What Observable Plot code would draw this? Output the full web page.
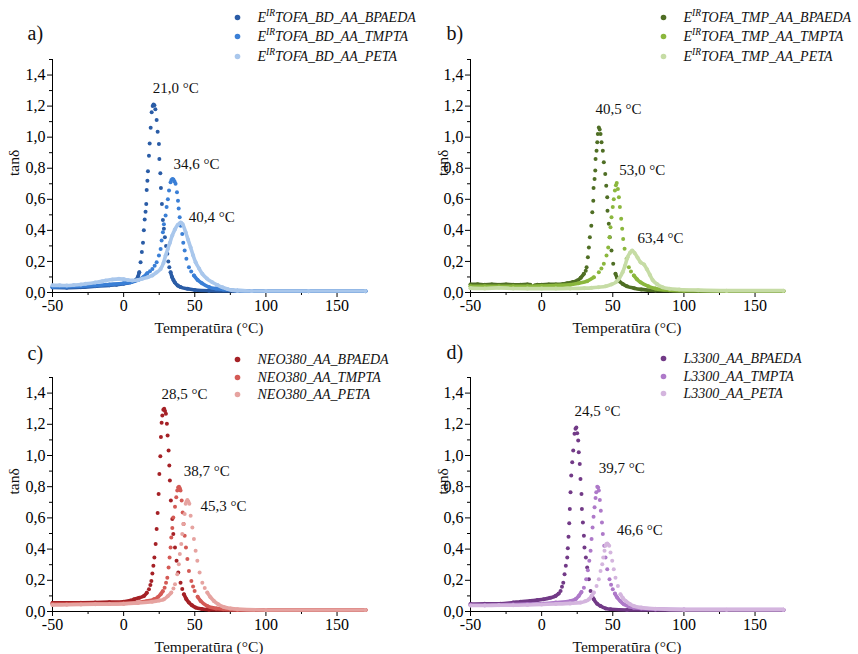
<!DOCTYPE html>
<html><head><meta charset="utf-8">
<script src="https://cdn.jsdelivr.net/npm/d3@7"></script>
<script src="https://cdn.jsdelivr.net/npm/@observablehq/plot@0.6"></script>
<style>
body{margin:0;background:#fff;}
#chart{position:relative;width:858px;height:654px;background:#fff;}
#chart > div{position:absolute;}
</style></head><body><div id="chart"></div>
<script>
// ---------- axis ticks ----------
const xTicks = [-50, 0, 50, 100, 150];
const xMinor = [-25, 25, 75, 125];
const yTicks = [0, 0.2, 0.4, 0.6, 0.8, 1.0, 1.2, 1.4];
const yMinor = [0.1, 0.3, 0.5, 0.7, 0.9, 1.1, 1.3, 1.5];
const xLabel = "Temperatūra (°C)";
const yLabel = "tanδ";
const panelLabels = ["a)", "b)", "c)", "d)"];

// ---------- series names ----------
const namesA = ["E^{IR}TOFA_BD_AA_BPAEDA", "E^{IR}TOFA_BD_AA_TMPTA", "E^{IR}TOFA_BD_AA_PETA"];
const namesB = ["E^{IR}TOFA_TMP_AA_BPAEDA", "E^{IR}TOFA_TMP_AA_TMPTA", "E^{IR}TOFA_TMP_AA_PETA"];
const namesC = ["NEO380_AA_BPAEDA", "NEO380_AA_TMPTA", "NEO380_AA_PETA"];
const namesD = ["L3300_AA_BPAEDA", "L3300_AA_TMPTA", "L3300_AA_PETA"];

// ---------- peak labels ----------
const peaksA = [["21,0 °C", 20.4, 1.318], ["34,6 °C", 35.1, 0.823], ["40,4 °C", 45.7, 0.482]];
const peaksB = [["40,5 °C", 37.9, 1.183], ["53,0 °C", 54.6, 0.785], ["63,4 °C", 67.4, 0.347]];
const peaksC = [["28,5 °C", 26.7, 1.392], ["38,7 °C", 42.2, 0.897], ["45,3 °C", 54.1, 0.678]];
const peaksD = [["24,5 °C", 23.1, 1.283], ["39,7 °C", 40.1, 0.916], ["46,6 °C", 52.8, 0.524]];

// ---------- data: [temperature °C, tanδ] ----------
const a_BPAEDA = [[-50,0.032],[-40,0.031],[-30,0.034],[-20,0.04],[-10,0.046],[-5,0.05],[0,0.056],[5,0.066],[8,0.078],[10,0.1],[11,0.13],[11.9,0.195],[12.8,0.26],[13.6,0.32],[14.2,0.4],[14.8,0.47],[15.4,0.52],[15.9,0.57],[16.2,0.66],[16.7,0.72],[17.1,0.78],[17.8,0.88],[18.3,0.96],[19,1.06],[19.7,1.16],[20.4,1.2],[21,1.21],[21.6,1.205],[22.3,1.18],[23.2,1.11],[23.9,1.035],[24.8,0.956],[25.1,0.86],[25.8,0.767],[26.2,0.673],[26.9,0.57],[27.6,0.467],[28.3,0.41],[29,0.355],[29.8,0.3],[30.7,0.25],[31.4,0.2],[32.1,0.163],[33,0.13],[34,0.1],[35,0.08],[36,0.065],[38,0.045],[40,0.035],[45,0.024],[50,0.016],[60,0.011],[80,0.009],[100,0.008],[130,0.008],[170,0.008]];
const a_TMPTA = [[-50,0.036],[-40,0.037],[-30,0.04],[-20,0.045],[-10,0.052],[0,0.06],[5,0.066],[10,0.08],[14,0.1],[16.6,0.124],[18.5,0.137],[20.2,0.152],[21.8,0.172],[23.2,0.195],[24.8,0.238],[26,0.28],[26.7,0.334],[27.6,0.388],[28.3,0.44],[29.5,0.495],[30.2,0.55],[31.1,0.6],[31.9,0.656],[33,0.71],[33.6,0.725],[34.3,0.73],[35,0.728],[35.8,0.715],[36.5,0.7],[37.5,0.645],[38.2,0.59],[38.7,0.54],[39.4,0.485],[40.1,0.43],[41.2,0.377],[41.9,0.32],[42.9,0.27],[44.1,0.217],[45.9,0.163],[47.5,0.135],[49.4,0.11],[52,0.08],[55,0.06],[60,0.035],[65,0.025],[70,0.02],[80,0.012],[100,0.01],[130,0.01],[170,0.01]];
const a_PETA = [[-50,0.046],[-45,0.046],[-40,0.045],[-35,0.048],[-30,0.052],[-26.7,0.056],[-20,0.065],[-15,0.073],[-12.6,0.077],[-8,0.084],[-3.3,0.088],[0,0.086],[3,0.08],[6.1,0.077],[10,0.08],[13.1,0.088],[17,0.098],[20.2,0.11],[23,0.128],[26,0.152],[28,0.19],[29.5,0.238],[31,0.28],[32.5,0.32],[34.2,0.367],[36,0.405],[38,0.435],[40.1,0.45],[41.5,0.44],[43.6,0.388],[45.3,0.34],[47.1,0.29],[48.8,0.24],[50.6,0.195],[53,0.155],[55.3,0.12],[58.5,0.09],[62.3,0.066],[66,0.048],[69.4,0.034],[73,0.022],[76.4,0.014],[80,0.012],[90,0.01],[100,0.01],[130,0.01],[170,0.01]];

const b_BPAEDA = [[-50,0.052],[-45,0.053],[-40,0.05],[-35,0.052],[-30,0.05],[-25,0.052],[-20,0.05],[-15,0.05],[-10,0.052],[-8,0.05],[-6.4,0.03],[-5,0.045],[-3,0.05],[0,0.05],[5,0.052],[10,0.052],[15,0.055],[18,0.06],[22,0.068],[25,0.077],[27.5,0.095],[29.7,0.12],[31,0.14],[31.6,0.163],[32.5,0.227],[33.2,0.29],[33.9,0.356],[34.9,0.43],[35.6,0.516],[36.3,0.59],[36.5,0.673],[37.2,0.73],[37.7,0.785],[37.9,0.86],[38.6,0.913],[39.1,0.967],[39.5,1.02],[40.2,1.063],[40.8,1.05],[41.4,1.02],[42.1,0.967],[43,0.913],[43.7,0.838],[44.7,0.763],[45.4,0.688],[46.1,0.613],[46.3,0.527],[47.2,0.442],[47.9,0.356],[49.1,0.27],[50.3,0.185],[51.9,0.12],[53,0.095],[54.3,0.077],[57,0.055],[60,0.04],[65,0.028],[70,0.02],[80,0.013],[100,0.01],[130,0.01],[170,0.01]];
const b_TMPTA = [[-50,0.04],[-40,0.04],[-30,0.04],[-20,0.04],[-10,0.04],[0,0.042],[10,0.045],[20,0.05],[26,0.06],[32,0.073],[36.7,0.098],[40.2,0.131],[42,0.155],[43.7,0.185],[45.6,0.238],[46.8,0.29],[47.7,0.356],[48.4,0.42],[49.1,0.484],[50,0.55],[50.7,0.6],[51.5,0.656],[52.2,0.69],[52.8,0.705],[53.6,0.667],[54.3,0.613],[55,0.55],[55.9,0.474],[56.6,0.41],[57.3,0.345],[58.3,0.281],[59.7,0.217],[61.3,0.163],[62.8,0.135],[64.8,0.11],[67,0.085],[69.5,0.066],[75,0.04],[80,0.025],[90,0.015],[100,0.012],[130,0.01],[170,0.01]];
const b_PETA = [[-50,0.028],[-40,0.026],[-30,0.03],[-20,0.026],[-10,0.025],[0,0.025],[10,0.025],[20,0.026],[30,0.028],[35,0.03],[40,0.034],[45.1,0.04],[49,0.052],[52.2,0.066],[54.5,0.09],[56.9,0.13],[58.5,0.17],[60.4,0.227],[62,0.255],[63.6,0.27],[65.3,0.255],[67.4,0.225],[69.5,0.195],[72,0.18],[74,0.15],[76,0.115],[78,0.08],[81,0.055],[85,0.034],[90,0.024],[96.7,0.019],[110,0.015],[130,0.012],[170,0.012]];

const c_BPAEDA = [[-50,0.055],[-40,0.055],[-30,0.056],[-20,0.058],[-10,0.06],[0,0.063],[5,0.07],[7.3,0.078],[11,0.088],[14.3,0.1],[16.3,0.12],[17.8,0.143],[18.8,0.17],[19.5,0.196],[20.2,0.243],[20.9,0.293],[21.6,0.346],[22.5,0.432],[23.2,0.529],[23.9,0.631],[24.6,0.754],[25.1,0.882],[25.8,0.995],[26.2,1.118],[26.7,1.21],[27.2,1.257],[27.9,1.294],[28.5,1.3],[29.1,1.285],[29.7,1.268],[30.4,1.204],[30.9,1.129],[31.6,1.032],[32.1,0.936],[32.5,0.839],[33.2,0.711],[34.2,0.593],[34.9,0.496],[36.1,0.41],[37.2,0.325],[38.4,0.25],[40,0.185],[41.2,0.145],[42.4,0.11],[44,0.08],[45.9,0.057],[48,0.04],[50.6,0.025],[55,0.016],[60,0.012],[80,0.01],[100,0.01],[170,0.01]];
const c_TMPTA = [[-50,0.048],[-40,0.048],[-30,0.05],[-20,0.05],[-10,0.05],[0,0.052],[10,0.058],[16,0.066],[21.3,0.078],[24,0.092],[26,0.11],[27.5,0.13],[28.8,0.153],[29.8,0.185],[30.7,0.217],[31.6,0.282],[32.3,0.346],[33,0.41],[33.5,0.475],[34.2,0.535],[34.9,0.603],[36.1,0.672],[37,0.732],[37.7,0.775],[38.3,0.795],[38.9,0.8],[39.5,0.79],[40,0.775],[40.8,0.711],[41.5,0.635],[42.2,0.561],[42.9,0.486],[43.8,0.41],[44.8,0.336],[45.9,0.26],[47.6,0.196],[48.8,0.16],[49.9,0.132],[52,0.095],[54.1,0.068],[58.8,0.035],[65,0.02],[70,0.015],[80,0.01],[100,0.01],[170,0.01]];
const c_PETA = [[-50,0.042],[-40,0.043],[-30,0.045],[-20,0.047],[-10,0.048],[0,0.05],[10,0.055],[20,0.062],[25,0.07],[28.3,0.078],[31,0.098],[33.5,0.121],[35,0.148],[36.1,0.175],[37.7,0.239],[38.8,0.303],[39.5,0.368],[40.5,0.432],[41.2,0.496],[41.9,0.561],[42.9,0.625],[43.6,0.69],[44.2,0.705],[44.8,0.715],[45.5,0.705],[46.2,0.69],[47.1,0.614],[48.3,0.539],[49.4,0.464],[50.6,0.389],[51.8,0.325],[53.4,0.25],[55.3,0.185],[57,0.15],[58.8,0.121],[61,0.092],[63.4,0.068],[66.5,0.047],[70.4,0.029],[75,0.02],[80,0.015],[100,0.01],[170,0.01]];

const d_BPAEDA = [[-50,0.048],[-40,0.05],[-29,0.05],[-20,0.058],[-14.8,0.063],[-8,0.068],[-3,0.073],[1.5,0.078],[6,0.088],[9.8,0.1],[12,0.115],[13.3,0.132],[14.3,0.158],[15.2,0.185],[16.1,0.239],[17,0.293],[18,0.346],[18.4,0.406],[18.9,0.479],[19.4,0.565],[19.8,0.657],[20.3,0.764],[20.8,0.871],[21.5,0.957],[22.2,1.032],[23.1,1.14],[23.8,1.171],[24.4,1.18],[25,1.143],[25.7,1.096],[26.1,1.021],[26.8,0.946],[27.3,0.85],[28,0.754],[28.3,0.657],[29,0.571],[29.7,0.486],[30.1,0.41],[31.1,0.346],[32,0.282],[33.2,0.207],[34.4,0.132],[35.5,0.1],[36.7,0.078],[39,0.05],[41.4,0.035],[45,0.02],[48.4,0.014],[60,0.01],[80,0.01],[100,0.01],[170,0.01]];
const d_TMPTA = [[-50,0.04],[-40,0.04],[-30,0.042],[-20,0.045],[-10,0.047],[0,0.05],[10,0.057],[20.3,0.068],[24,0.08],[26.1,0.1],[28,0.125],[29.7,0.153],[31.3,0.207],[32.5,0.265],[33.5,0.325],[34.4,0.389],[35.1,0.464],[35.8,0.539],[36.5,0.608],[37.2,0.668],[37.9,0.728],[38.4,0.764],[39.1,0.8],[39.7,0.795],[40.2,0.775],[40.9,0.715],[41.6,0.646],[42.4,0.571],[43,0.496],[44,0.421],[44.9,0.346],[46.1,0.271],[47.7,0.207],[48.8,0.172],[50,0.143],[51.5,0.115],[53.1,0.089],[55.5,0.065],[57.8,0.046],[61,0.033],[64.8,0.024],[70,0.02],[80,0.015],[100,0.013],[170,0.012]];
const d_PETA = [[-50,0.038],[-40,0.038],[-30,0.04],[-20,0.04],[-10,0.042],[0,0.045],[10,0.048],[20,0.052],[27.3,0.057],[30.5,0.065],[33.2,0.078],[35,0.098],[36.7,0.121],[38.6,0.164],[40.2,0.207],[41.4,0.26],[42.6,0.303],[43.3,0.346],[44.2,0.389],[44.9,0.421],[45.5,0.432],[46.1,0.436],[46.8,0.43],[47.5,0.421],[48.4,0.378],[49.6,0.325],[50.7,0.271],[51.9,0.217],[53.6,0.164],[55.4,0.11],[57,0.088],[59,0.068],[62,0.048],[64.8,0.035],[70,0.025],[80,0.018],[100,0.012],[130,0.012],[170,0.012]];

// ---------- colours ----------
const colorsA = ["#2a5ca6", "#3a7fd6", "#a9c7ec"];
const colorsB = ["#4f6e24", "#8bb73d", "#c6dca5"];
const colorsC = ["#a52126", "#d45a55", "#e6a3a0"];
const colorsD = ["#723a87", "#ae79c9", "#d4b5de"];

// ---------- layout ----------
const panels = [
  {label: panelLabels[0], left: 0,   top: 0,   m: [59, 64, 35, 52], names: namesA, colors: colorsA, series: [a_BPAEDA, a_TMPTA, a_PETA], solid: [false, false, true],  peaks: peaksA, legDx: 185, legDy: [-42, -23, -3], labDx: -25, labDy: -26},
  {label: panelLabels[1], left: 429, top: 0,   m: [59, 75, 35, 41], names: namesB, colors: colorsB, series: [b_BPAEDA, b_TMPTA, b_PETA], solid: [false, false, true],  peaks: peaksB, legDx: 193, legDy: [-42, -23, -3], labDx: -24, labDy: -26},
  {label: panelLabels[2], left: 0,   top: 327, m: [50, 64, 43, 52], names: namesC, colors: colorsC, series: [c_BPAEDA, c_TMPTA, c_PETA], solid: [false, false, false], peaks: peaksC, legDx: 185, legDy: [-18, 0, 17],   labDx: -25, labDy: -24},
  {label: panelLabels[3], left: 429, top: 327, m: [50, 75, 43, 41], names: namesD, colors: colorsD, series: [d_BPAEDA, d_TMPTA, d_PETA], solid: [false, false, false], peaks: peaksD, legDx: 193, legDy: [-19, -1, 16],  labDx: -24, labDy: -25}
];

const comma = d => d.toFixed(1).replace(".", ",");
const container = document.getElementById("chart");

for (const p of panels) {
  const marks = [];
  // axis lines
  marks.push(Plot.ruleY([0], {x1: -50, x2: 170, stroke: "#000", strokeWidth: 1}));
  marks.push(Plot.ruleX([-50], {y1: 0, y2: 1.5, stroke: "#000", strokeWidth: 1}));
  // axes
  marks.push(Plot.axisX({ticks: xTicks, tickSize: 5, tickPadding: 2, tickFormat: d => String(d), label: null, fontSize: 16}));
  marks.push(Plot.axisX({ticks: xMinor, tickSize: 3, tickFormat: () => "", label: null}));
  marks.push(Plot.axisY({ticks: yTicks, tickSize: 5, tickPadding: 2, tickFormat: comma, label: null, fontSize: 16}));
  marks.push(Plot.axisY({ticks: yMinor, tickSize: 3, tickFormat: () => "", label: null}));
  // series
  p.series.forEach((s, i) => {
    const rows = s.map(([t, v]) => ({t, v}));
    const solid = p.solid[i];
    marks.push(Plot.line(rows, {x: "t", y: d => (solid || d.v <= 0.13) ? d.v : NaN, stroke: p.colors[i], strokeWidth: 3.6, curve: "monotone-x"}));
    marks.push(Plot.dot(rows, {x: "t", y: "v", r: 2, fill: p.colors[i], stroke: "none"}));
  });
  // peak labels
  marks.push(Plot.text(p.peaks, {x: d => d[1], y: d => d[2], text: d => d[0], textAnchor: "start", fontSize: 15, fill: "#111"}));
  // axis titles
  marks.push(Plot.text([yLabel], {frameAnchor: "left", dx: 14 - p.m[3], rotate: -90, text: d => d, fontSize: 15.5, fill: "#111", lineAnchor: "middle"}));
  marks.push(Plot.text([xLabel], {frameAnchor: "bottom", dy: 36, text: d => d, fontSize: 15.5, fill: "#111", lineAnchor: "middle"}));
  // panel label
  marks.push(Plot.text([p.label], {frameAnchor: "top-left", dx: p.labDx, dy: p.labDy, text: d => d, textAnchor: "start", lineAnchor: "middle", fontSize: 20, fill: "#111"}));
  // legend
  p.names.forEach((name, i) => {
    marks.push(Plot.dot([name], {frameAnchor: "top-left", dx: p.legDx, dy: p.legDy[i], r: 2.8, fill: p.colors[i], stroke: "none"}));
    marks.push(Plot.text([name], {frameAnchor: "top-left", dx: p.legDx + 20, dy: p.legDy[i], text: d => d, textAnchor: "start", lineAnchor: "middle", fontStyle: "italic", fontSize: 14, fill: "#111"}));
  });

  const svg = Plot.plot({
    width: 429, height: 327,
    marginTop: p.m[0], marginRight: p.m[1], marginBottom: p.m[2], marginLeft: p.m[3],
    x: {domain: [-50, 170]},
    y: {domain: [0, 1.5]},
    style: {fontFamily: "'Liberation Serif', 'Times New Roman', serif", fontSize: "16px", color: "#000", background: "transparent", overflow: "visible"},
    marks
  });
  // superscripts in legend entries
  d3.select(svg).selectAll("text").each(function () {
    const t = this.textContent;
    const m = t && t.match(/^(.*?)\^\{(.*?)\}(.*)$/);
    if (!m) return;
    const sel = d3.select(this);
    sel.selectAll("*").remove();
    sel.text(null);
    sel.append("tspan").text(m[1]);
    sel.append("tspan").attr("font-size", "9.5px").attr("dy", "-5.5").text(m[2]);
    sel.append("tspan").attr("dy", "5.5").text(m[3]);
  });
  const div = document.createElement("div");
  div.style.left = p.left + "px";
  div.style.top = p.top + "px";
  div.appendChild(svg);
  container.appendChild(div);
}
</script>
</body></html>
